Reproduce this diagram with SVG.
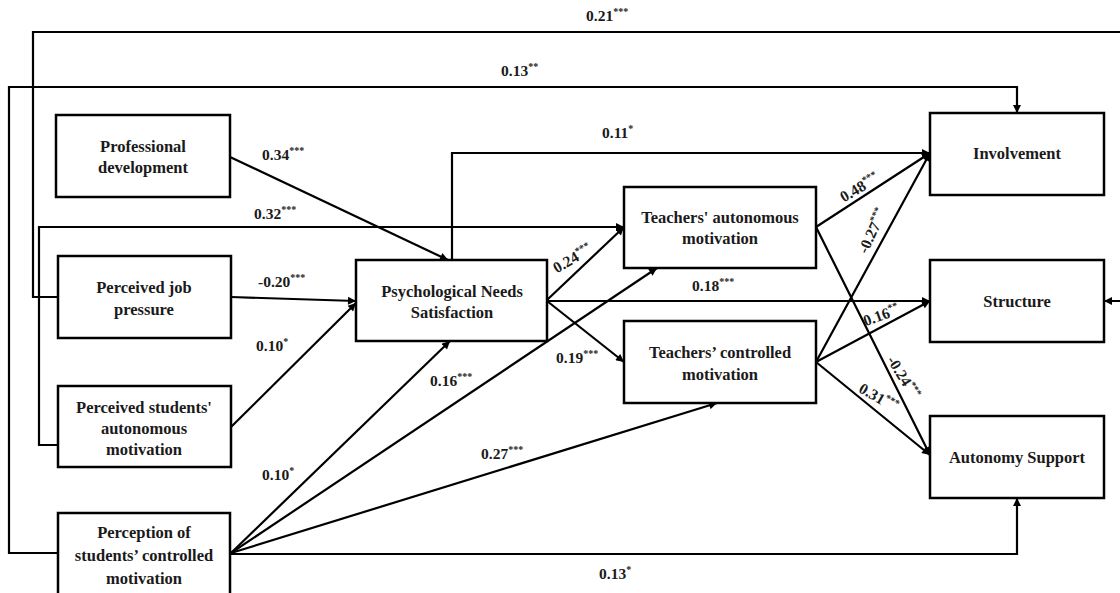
<svg xmlns="http://www.w3.org/2000/svg" width="1120" height="593" viewBox="0 0 1120 593">
<defs>
<marker id="arr" viewBox="0 0 10 10" refX="10" refY="5" markerWidth="9" markerHeight="8" markerUnits="userSpaceOnUse" orient="auto">
<path d="M0,0 L10,5 L0,10 Z" fill="#000"/>
</marker>
<style>
.box{fill:#fff;stroke:#000;stroke-width:2.5}
.t{font-family:"Liberation Serif","Times New Roman",serif;font-weight:bold;font-size:16.5px;fill:#1a1a1a;text-anchor:middle}
.l{font-family:"Liberation Serif","Times New Roman",serif;font-weight:bold;font-size:15.5px;fill:#1a1a1a}
.s{font-size:10px}
.c{fill:none;stroke:#000;stroke-width:2.2;marker-end:url(#arr)}
</style>
</defs>
<rect width="1120" height="593" fill="#fff"/>
<g id="connectors">
<path class="c" d="M58,297 H33 V32 H1124 V301 H1104"/>
<path class="c" d="M58,553 H9 V87 H1017 V113"/>
<path class="c" d="M58,445 H39 V227 H624"/>
<path class="c" d="M230,157 L448,260"/>
<path class="c" d="M452,260 V153 H930"/>
<path class="c" d="M231,297 L356,301"/>
<path class="c" d="M231,427 L356,303"/>
<path class="c" d="M231,553 L450,341"/>
<path class="c" d="M231,553 L657,268"/>
<path class="c" d="M231,553 L717,403"/>
<path class="c" d="M231,554 H1017 V498"/>
<path class="c" d="M547,300 L624,227"/>
<path class="c" d="M547,301 H930"/>
<path class="c" d="M547,301 L624,362"/>
<path class="c" d="M816,227 L930,153"/>
<path class="c" d="M816,227 L930,455"/>
<path class="c" d="M816,362 L930,153"/>
<path class="c" d="M816,362 L930,301"/>
<path class="c" d="M816,362 L930,455"/>
</g>
<g id="labels">
<text class="l" x="586" y="21">0.21<tspan class="s" dy="-6">***</tspan></text>
<text class="l" x="501" y="76">0.13<tspan class="s" dy="-6">**</tspan></text>
<text class="l" x="262" y="160">0.34<tspan class="s" dy="-6">***</tspan></text>
<text class="l" x="254" y="219">0.32<tspan class="s" dy="-6">***</tspan></text>
<text class="l" x="602" y="138">0.11<tspan class="s" dy="-6">*</tspan></text>
<text class="l" x="258" y="287">-0.20<tspan class="s" dy="-6">***</tspan></text>
<text class="l" x="256" y="351">0.10<tspan class="s" dy="-6">*</tspan></text>
<text class="l" x="262" y="480">0.10<tspan class="s" dy="-6">*</tspan></text>
<text class="l" x="430" y="386">0.16<tspan class="s" dy="-6">***</tspan></text>
<text class="l" x="481" y="459">0.27<tspan class="s" dy="-6">***</tspan></text>
<text class="l" x="599" y="579">0.13<tspan class="s" dy="-6">*</tspan></text>
<text class="l" x="556" y="363">0.19<tspan class="s" dy="-6">***</tspan></text>
<text class="l" x="692" y="291">0.18<tspan class="s" dy="-6">***</tspan></text>
<text class="l" transform="translate(575,263) rotate(-30)" text-anchor="middle">0.24<tspan class="s" dy="-6">***</tspan></text>
<text class="l" transform="translate(862,192) rotate(-30)" text-anchor="middle">0.48<tspan class="s" dy="-6">***</tspan></text>
<text class="l" transform="translate(877,233) rotate(-65)" text-anchor="middle">-0.27<tspan class="s" dy="-6">***</tspan></text>
<text class="l" transform="translate(883,320) rotate(-20)" text-anchor="middle">0.16<tspan class="s" dy="-6">**</tspan></text>
<text class="l" transform="translate(899,380) rotate(58)" text-anchor="middle">-0.24<tspan class="s" dy="-6">***</tspan></text>
<text class="l" transform="translate(876,402) rotate(30)" text-anchor="middle">0.31<tspan class="s" dy="-6">***</tspan></text>
</g>
<g id="professional-development">
<rect class="box" x="56" y="115" width="174" height="82"/>
<text class="t" x="143" y="152">Professional</text>
<text class="t" x="143" y="173">development</text>
</g>
<g id="perceived-job-pressure">
<rect class="box" x="58" y="256" width="173" height="82"/>
<text class="t" x="144" y="293">Perceived job</text>
<text class="t" x="144" y="315">pressure</text>
</g>
<g id="perceived-students-autonomous">
<rect class="box" x="58" y="386" width="173" height="81"/>
<text class="t" x="144" y="413">Perceived students'</text>
<text class="t" x="144" y="434">autonomous</text>
<text class="t" x="144" y="455">motivation</text>
</g>
<g id="perception-students-controlled">
<rect class="box" x="58" y="513" width="172" height="90"/>
<text class="t" x="144" y="538">Perception of</text>
<text class="t" x="144" y="561">students’ controlled</text>
<text class="t" x="144" y="584">motivation</text>
</g>
<g id="psychological-needs">
<rect class="box" x="356" y="260" width="191" height="81"/>
<text class="t" x="452" y="297">Psychological Needs</text>
<text class="t" x="452" y="318">Satisfaction</text>
</g>
<g id="teachers-autonomous">
<rect class="box" x="624" y="187" width="192" height="81"/>
<text class="t" x="720" y="223">Teachers' autonomous</text>
<text class="t" x="720" y="244">motivation</text>
</g>
<g id="teachers-controlled">
<rect class="box" x="624" y="321" width="192" height="82"/>
<text class="t" x="720" y="358">Teachers’ controlled</text>
<text class="t" x="720" y="380">motivation</text>
</g>
<g id="involvement">
<rect class="box" x="930" y="113" width="174" height="82"/>
<text class="t" x="1017" y="159">Involvement</text>
</g>
<g id="structure">
<rect class="box" x="930" y="260" width="174" height="82"/>
<text class="t" x="1017" y="307">Structure</text>
</g>
<g id="autonomy-support">
<rect class="box" x="930" y="416" width="174" height="82"/>
<text class="t" x="1017" y="463">Autonomy Support</text>
</g>
</svg>
